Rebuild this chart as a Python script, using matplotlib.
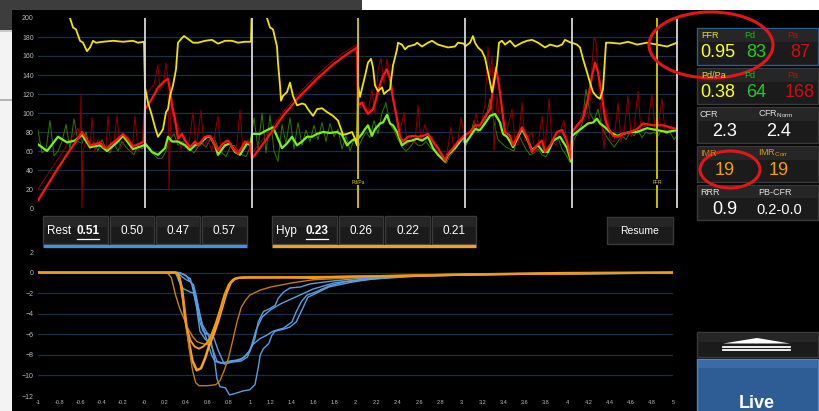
import numpy as np
import matplotlib
matplotlib.use('Agg')
import matplotlib.pyplot as plt
from matplotlib.patches import Rectangle, Ellipse, Polygon

plt.rcParams['font.family'] = ['Liberation Sans', 'DejaVu Sans']
plt.rcParams['mathtext.fontset'] = 'custom'
plt.rcParams['mathtext.rm'] = 'Liberation Sans'

W, H = 820, 411

# ---------------- top panel: pressure traces (time index, mmHg) ----------------
ratio_t = [29, 32, 35, 38, 42, 45, 49, 52, 55, 58, 65, 75, 85, 95, 100, 106,
           107, 110, 114, 117, 120, 122, 125, 128, 130, 132, 135, 138, 140, 144, 146, 150, 155, 160,
           167, 174, 180, 187, 194, 200, 207, 213,
           214, 229, 232, 235, 239, 240, 242, 243, 245, 249, 252, 255, 259, 264, 267, 270, 275, 279,
           284, 289, 295, 300, 305, 309, 314, 317, 319,
           320, 322, 327, 330, 333, 335, 337, 340, 344, 346, 349, 352, 355, 359, 360, 364, 367, 370,
           377, 379, 384, 390, 394, 400, 410, 417, 420, 426,
           427, 432, 435, 437, 440, 444, 447, 450, 454, 455, 457, 459, 461, 464, 467, 472, 477, 484,
           489, 494, 500, 507, 512, 519, 524, 527, 533,
           534, 539, 542, 545, 549, 552, 555, 559, 562, 565, 568, 572, 582, 590, 599, 609, 619, 629, 639]
ratio_v = [215, 200, 190, 188, 176, 174, 165, 169, 176, 174, 175, 176, 175, 176, 174, 175,
           127, 111, 97, 85, 75, 78, 83, 101, 104, 118, 129, 146, 174, 179, 181, 178, 174, 174,
           176, 177, 173, 176, 176, 174, 175, 175,
           220, 200, 190, 188, 170, 153, 129, 113, 118, 122, 132, 118, 108, 110, 109, 104, 97, 104,
           105, 101, 97, 92, 77, 78, 80, 73, 66,
           129, 117, 139, 153, 157, 148, 129, 123, 127, 120, 123, 125, 150, 167, 174, 172, 167, 170,
           172, 174, 170, 174, 176, 172, 169, 170, 174, 173,
           170, 174, 181, 174, 169, 165, 158, 143, 122, 127, 139, 151, 174, 176, 172, 176, 170, 174,
           176, 177, 174, 169, 172, 170, 172, 177, 174,
           174, 172, 169, 157, 143, 132, 122, 117, 115, 125, 174, 174, 173, 175, 172, 174, 172, 170, 174]

pa_t = [0, 10, 20, 30, 38, 44, 48, 52, 57, 62, 66, 69, 74, 79, 85, 90, 95, 100, 106,
        107, 114, 120, 127, 130, 132, 134, 137, 140, 144, 147, 152, 157, 160, 167, 172, 175, 180,
        185, 190, 195, 200, 207, 212,
        214, 229, 245, 262, 279, 295, 305, 319,
        320, 324, 327, 330, 335, 339, 342, 345, 349, 352, 355, 359, 362, 365, 370, 375, 380, 385,
        390, 395, 400, 407, 410, 415, 420, 426,
        432, 437, 442, 447, 452, 455, 458, 461, 464, 467, 472, 475, 484, 489, 494, 499, 504, 507,
        512, 519, 524, 529, 533,
        534, 539, 545, 550, 554, 557, 560, 564, 567, 570, 575, 580, 585, 592, 599, 605, 615, 625,
        632, 639]
pa_v = [8, 25, 42, 58, 70, 80, 74, 66, 67, 69, 64, 63, 68, 72, 78, 72, 65, 67, 70,
        104, 115, 127, 134, 136, 125, 108, 94, 73, 78, 71, 64, 70, 66, 75, 76, 70, 61,
        68, 71, 63, 57, 70, 68,
        52, 73, 97, 118, 136, 151, 159, 169,
        108, 111, 104, 99, 104, 118, 130, 139, 146, 136, 115, 94, 75, 70, 75, 76, 75, 76,
        78, 70, 63, 50, 57, 63, 70, 76,
        80, 87, 87, 96, 104, 125, 148, 129, 104, 80, 76, 66, 85, 75, 59, 66, 71, 59,
        66, 80, 82, 70, 52,
        80, 87, 94, 115, 139, 153, 143, 118, 94, 85, 76, 75, 78, 80, 83, 89, 87, 87,
        85, 83]

pa_raw_t = [0, 40, 42, 43, 44, 45, 48, 52, 54, 57, 60, 64, 68, 70, 73, 76, 79, 82, 86, 90, 94, 97,
            100, 104,
            107, 112, 116, 120, 122, 126, 128, 130, 131, 133, 136, 140, 143, 147, 150, 155, 158, 163,
            166, 170, 174, 180, 183, 188, 192, 198, 202, 205, 210, 213,
            214, 229, 245, 262, 279, 295, 305, 319,
            320, 322, 326, 330, 334, 337, 340, 343, 346, 349, 352, 355, 358, 362, 366, 369, 373, 377,
            380, 383, 387, 391, 394, 398, 402, 406, 409, 413, 416, 420, 423, 427,
            431, 434, 438, 441, 444, 447, 450, 452, 454, 456, 459, 462, 466, 469, 474, 477, 480, 484,
            487, 490, 494, 497, 500, 504, 507, 511, 514, 518, 522, 526, 530, 533,
            536, 540, 544, 548, 551, 554, 556, 558, 560, 563, 566, 569, 572, 576, 580, 583, 586, 590,
            593, 596, 600, 603, 606, 610, 614, 617, 620, 624, 627, 632, 636, 639]
pa_raw_v = [20, 84, 72, 120, 0, 60, 70, 62, 95, 60, 72, 68, 62, 97, 60, 70, 97, 62, 70, 75, 58, 97,
            60, 66,
            118, 125, 130, 151, 125, 135, 153, 135, 19, 110, 90, 87, 62, 75, 60, 101, 62, 103,
            65, 72, 60, 97, 58, 72, 66, 58, 103, 60, 72, 68,
            58, 78, 101, 122, 140, 155, 163, 172,
            140, 105, 112, 100, 125, 99, 145, 158, 130, 157, 140, 120, 100, 80, 101, 66, 75, 68,
            108, 70, 88, 72, 75, 62, 55, 48, 58, 85, 60, 72, 95, 72,
            80, 78, 100, 84, 92, 110, 170, 140, 160, 59, 120, 85, 75, 82, 104, 70, 66, 111,
            70, 75, 80, 58, 66, 97, 62, 115, 70, 66, 80, 92, 60, 52,
            78, 85, 100, 110, 92, 150, 179, 175, 140, 100, 62, 104, 72, 70, 111, 70, 80, 118,
            75, 84, 123, 80, 85, 90, 120, 82, 86, 115, 80, 84, 80, 82]

pd_t = [0, 9, 20, 29, 37, 44, 52, 62, 69, 79, 85, 95, 106,
        107, 114, 120, 127, 130, 134, 140, 147, 152, 157, 162, 169, 172, 177, 180, 187, 192, 197,
        202, 209, 213,
        214, 222, 229, 235, 240, 244, 249, 254, 259, 264, 269, 274, 279, 285, 292, 299, 304, 309,
        314, 317, 319,
        320, 324, 327, 330, 334, 337, 342, 345, 349, 352, 355, 359, 364, 369, 374, 379, 384, 390,
        395, 400, 407, 410, 417, 422, 426,
        427, 432, 437, 442, 447, 452, 457, 462, 465, 469, 472, 475, 484, 489, 494, 500, 505, 510,
        515, 522, 529, 533,
        534, 539, 545, 550, 555, 559, 562, 567, 572, 579, 585, 592, 599, 609, 619, 629, 639]
pd_v = [67, 60, 75, 69, 71, 77, 64, 66, 60, 69, 76, 62, 66,
        68, 59, 56, 63, 75, 70, 70, 66, 61, 66, 68, 75, 75, 66, 56, 66, 68, 59,
        56, 68, 66,
        78, 78, 82, 85, 73, 63, 68, 75, 66, 70, 75, 75, 78, 80, 79, 80, 77, 66,
        71, 73, 68,
        73, 78, 83, 87, 76, 83, 89, 90, 98, 89, 87, 80, 66, 70, 71, 73, 71, 75,
        63, 56, 49, 56, 63, 70, 76,
        68, 75, 83, 82, 89, 97, 99, 90, 78, 75, 70, 64, 83, 73, 61, 66, 59, 59,
        71, 75, 63, 49,
        76, 80, 85, 89, 90, 94, 89, 85, 80, 76, 78, 80, 80, 84, 82, 80, 82]

# raw distal pressure, one sample every 4 time units
pd_raw_v = [82, 58, 62, 92, 55, 60, 70, 88, 62, 94, 70, 68, 80, 62, 70, 60, 72, 62, 58, 68,
            60, 70, 64, 60, 56, 66, 62,
            66, 60, 56, 52, 52, 60, 72, 78, 66, 70, 66, 62, 58, 64, 68, 64, 72, 74, 64, 58,
            54, 64, 66, 60, 56, 54, 64,
            95, 62, 100, 58, 98, 60, 49, 88, 68, 95, 62, 90, 66, 82, 70, 87, 72, 90, 70, 89,
            75, 83, 62, 76, 60, 72,
            64, 72, 80, 74, 92, 78, 100, 111, 88, 82, 72, 64, 60, 64, 70, 66, 66, 70, 64, 60,
            56, 52, 47, 55, 60, 66, 72,
            66, 75, 92, 80, 85, 95, 115, 90, 72, 68, 64, 62, 60, 78, 70, 62, 56, 58, 62, 56,
            54, 62, 70, 74, 62, 56, 48,
            72, 80, 88, 125, 100, 92, 104, 85, 76, 70, 64, 70, 76, 72, 80, 76, 82, 74, 80, 78,
            80, 76, 82, 78, 80, 72, 78]

event_white_t = [107, 214, 427, 534, 639]
event_yellow_t = [320, 619]
event_labels = ['Pd/Pa', 'FFR']
pressure_ticks = list(range(0, 201, 20))

# ---------------- bottom panel: thermodilution curves ----------------
rest_x = [
    [-1, 0.30, 0.33, 0.36, 0.40, 0.44, 0.47, 0.50, 0.53, 0.56, 0.61, 0.64, 0.67, 0.69, 0.72,
     0.77, 0.81, 0.88, 0.94, 1.00, 1.05, 1.08, 1.10, 1.13, 1.18, 1.21, 1.24, 1.32, 1.38, 1.44,
     1.50, 1.55, 1.63, 1.75, 1.93, 2.1, 2.4, 2.8, 3.5, 4.2, 5.0],
    [-1, 0.32, 0.36, 0.40, 0.44, 0.47, 0.50, 0.53, 0.56, 0.60, 0.64, 0.67, 0.72, 0.78, 0.85,
     0.91, 0.97, 1.00, 1.05, 1.08, 1.13, 1.19, 1.24, 1.27, 1.32, 1.38, 1.48, 1.57, 1.8, 2.0,
     2.4, 2.8, 3.5, 5.0],
    [-1, 0.33, 0.38, 0.44, 0.47, 0.50, 0.53, 0.58, 0.62, 0.66, 0.69, 0.74, 0.81, 0.88, 0.94,
     0.99, 1.03, 1.10, 1.16, 1.22, 1.32, 1.40, 1.44, 1.49, 1.54, 1.62, 1.75, 1.9, 2.2, 2.6,
     3.2, 5.0],
    [-1, 0.34, 0.40, 0.46, 0.50, 0.55, 0.60, 0.66, 0.70, 0.76, 0.84, 0.92, 0.98, 1.02, 1.06,
     1.12, 1.2, 1.3, 1.45, 1.6, 1.8, 2.1, 2.6, 3.2, 5.0],
]
rest_y = [
    [0, 0, -0.8, -1.5, -1.7, -1.9, -2.0, -3.2, -4.8, -5.7, -6.1, -6.9, -8.6, -10.3, -11.1,
     -11.2, -11.9, -11.7, -11.5, -11.4, -10.9, -9.3, -8.0, -7.4, -6.9, -6.1, -5.7, -5.5, -5.3, -4.8,
     -3.5, -2.4, -2.0, -1.4, -1.0, -0.7, -0.4, -0.2, -0.15, -0.1, -0.05],
    [0, 0, -0.4, -0.7, -0.9, -1.2, -2.5, -4.1, -5.4, -6.7, -8.0, -8.6, -8.8, -8.8, -8.6,
     -8.5, -8.0, -7.7, -6.4, -4.8, -3.8, -3.5, -3.2, -2.5, -1.9, -1.5, -1.4, -1.1, -0.8, -0.6,
     -0.35, -0.2, -0.1, 0],
    [0, 0, -0.2, -0.6, -1.9, -3.5, -5.7, -6.5, -6.7, -7.7, -8.6, -8.8, -8.6, -8.5, -8.3,
     -7.7, -7.0, -6.4, -6.1, -5.7, -5.4, -4.8, -3.8, -2.8, -2.2, -1.9, -1.3, -0.9, -0.6, -0.35,
     -0.2, -0.05],
    [0, 0, -0.3, -1.2, -2.8, -5.0, -5.9, -6.3, -7.5, -8.9, -8.7, -8.6, -8.2, -7.0, -5.6,
     -4.3, -3.6, -3.0, -2.3, -1.6, -1.0, -0.6, -0.3, -0.15, 0],
]
hyp_x = [
    [-1, 0.30, 0.33, 0.36, 0.38, 0.40, 0.43, 0.46, 0.50, 0.54, 0.58, 0.62, 0.66, 0.70, 0.74,
     0.78, 0.82, 0.86, 0.90, 1.0, 1.3, 1.6, 2.0, 2.5, 3.0, 4.0, 5.0],
    [-1, 0.30, 0.34, 0.37, 0.40, 0.43, 0.46, 0.49, 0.52, 0.60, 0.68, 0.72, 0.76, 0.80, 0.84,
     0.88, 0.92, 0.96, 1.0, 1.1, 1.2, 1.4, 1.6, 2.0, 2.5, 3.0, 4.0, 5.0],
    [-1, 0.22, 0.26, 0.30, 0.34, 0.38, 0.42, 0.46, 0.50, 0.55, 0.60, 0.63, 0.66, 0.70, 0.74,
     0.78, 0.82, 0.86, 0.9, 1.0, 1.5, 2.0, 3.0, 5.0],
    [-1, 0.31, 0.34, 0.37, 0.40, 0.44, 0.48, 0.52, 0.56, 0.60, 0.64, 0.68, 0.72, 0.76, 0.80,
     0.84, 0.88, 0.95, 1.2, 1.6, 2.0, 2.6, 3.4, 5.0],
]
hyp_y = [
    [0, 0, -0.3, -1.5, -3.2, -5.0, -7.0, -8.6, -9.5, -9.3, -8.3, -7.0, -6.0, -4.8, -3.4,
     -2.0, -1.0, -0.6, -0.5, -0.45, -0.45, -0.5, -0.4, -0.3, -0.2, -0.05, 0],
    [0, 0, -0.5, -2.5, -5.0, -7.5, -9.5, -10.7, -11.0, -11.0, -10.9, -10.5, -9.5, -8.3, -6.6,
     -4.8, -3.4, -2.7, -2.2, -1.7, -1.4, -1.0, -0.7, -0.5, -0.3, -0.2, -0.1, 0],
    [0, 0, -0.5, -2.2, -3.5, -4.5, -5.5, -6.2, -6.7, -6.9, -7.0, -6.5, -5.5, -4.5, -3.2,
     -1.8, -0.9, -0.6, -0.5, -0.4, -0.4, -0.35, -0.2, 0],
    [0, 0, -0.6, -2.8, -5.2, -6.6, -7.2, -7.4, -7.2, -6.8, -6.0, -4.9, -3.6, -2.2, -1.2,
     -0.7, -0.55, -0.5, -0.5, -0.45, -0.4, -0.3, -0.15, 0],
]
hyp_colors = ['#ffa41c', '#c47a0c', '#c98510', '#f59a12']
hyp_widths = [1.8, 1.0, 1.0, 1.4]
curve_ticks_y = list(range(2, -13, -2))
curve_grid_y = [0, -2, -4, -6, -8, -10]

# ---------------- buttons and read-out panel ----------------
rest_values = ['0.51', '0.50', '0.47', '0.57']
hyp_values = ['0.23', '0.26', '0.22', '0.21']

panel_labels = [
    [('FFR', '#e6e21a'), ('Pd', '#1fb81f'), ('Pa', '#b81010')],
    [('Pd/Pa', '#e6e21a'), ('Pd', '#1fb81f'), ('Pa', '#b81010')],
    [('CFR', '#e0e0e0'), (r'CFR$_{\mathregular{Norm}}$', '#e0e0e0')],
    [('IMR', '#c98a1a'), (r'IMR$_{\mathregular{Corr}}$', '#d99a20')],
    [('RRR', '#e0e0e0'), ('PB-CFR', '#e0e0e0')],
]
panel_values = [
    [('0.95', '#ffff26'), ('83', '#20cc20'), ('87', '#cc1010')],
    [('0.38', '#ffff26'), ('64', '#20cc20'), ('168', '#cc1010')],
    [('2.3', 'white'), ('2.4', 'white')],
    [('19', '#f5a000'), ('19', '#f5a000')],
    [('0.9', 'white'), ('0.2-0.0', 'white')],
]

GRID = '#16304a'
TICK = '#b8b8b8'

fig = plt.figure(figsize=(W / 100, H / 100), dpi=100, facecolor='black')


def px_axes(x0, y0, x1, y1):
    return fig.add_axes([x0 / W, 1 - y1 / H, (x1 - x0) / W, (y1 - y0) / H])


def style_axes(ax):
    ax.set_facecolor('black')
    for s in ax.spines.values():
        s.set_visible(False)
    ax.tick_params(length=0, colors=TICK, labelsize=5, pad=3)


# top chart
ax = px_axes(38, 18, 678, 208)
ax.set_xlim(0, 640)
ax.set_ylim(0, 200)
for v in pressure_ticks[1:-1]:
    ax.axhline(v, color=GRID, lw=0.9, zorder=0)
ax.set_yticks(pressure_ticks)
ax.set_xticks([])
style_axes(ax)
raw_t = np.arange(len(pd_raw_v)) * 4
ax.plot(raw_t, pd_raw_v, color='#2f7a00', lw=0.7, zorder=2)
ax.plot(pa_raw_t, pa_raw_v, color='#8e0000', lw=0.7, zorder=3)
ax.plot(pd_t, pd_v, color='#7cf01a', lw=1.6, zorder=4)
ax.plot(pa_t, pa_v, color='#ff1414', lw=1.6, zorder=5)
ax.plot(ratio_t, ratio_v, color='#f2e400', lw=1.3, zorder=6)
for t in event_white_t:
    ax.axvline(t, color='#d8d8d8', lw=1.3, zorder=7)
for t, lab in zip(event_yellow_t, event_labels):
    ax.axvline(t, color='#c9c000', lw=1.4, zorder=7)
    ax.text(t, 27, lab, color='#d8d000', fontsize=3.5, ha='center', va='center', zorder=8,
            bbox=dict(fc='black', ec='none', pad=0.3))

# bottom chart
bx = px_axes(38, 252, 673, 396)
bx.set_xlim(-1, 5)
bx.set_ylim(-12, 2)
for v in curve_grid_y:
    bx.axhline(v, color=GRID, lw=0.9, zorder=0)
for xs, ys in zip(rest_x, rest_y):
    bx.plot(xs, ys, color='#5a9fe2', lw=1.0, zorder=3)
for xs, ys, c, lw in zip(hyp_x, hyp_y, hyp_colors, hyp_widths):
    bx.plot(xs, ys, color=c, lw=lw, zorder=4)
bx.set_yticks(curve_ticks_y)
xt = np.round(np.arange(-1, 5.001, 0.2), 1)
bx.set_xticks(xt)
bx.set_xticklabels([f'{v:g}' for v in xt])
style_axes(bx)
bx.tick_params(axis='x', labelsize=4, pad=3)

# overlay in pixel coordinates
ov = fig.add_axes([0, 0, 1, 1])
ov.set_xlim(0, W)
ov.set_ylim(H, 0)
ov.axis('off')
ov.patch.set_alpha(0)

ov.add_patch(Rectangle((0, 0), 362, 10, fc='#3d3d3d', ec='none'))
ov.add_patch(Rectangle((0, 10), 12, 20, fc='#3d3d3d', ec='none'))
ov.add_patch(Rectangle((362, 0), W - 362, 10, fc='white', ec='none'))
ov.add_patch(Rectangle((0, 30), 12, H - 30, fc='#f3f3f3', ec='none'))
ov.add_patch(Rectangle((0, 30.5), 12, 2, fc='#c9c9c9', ec='none'))
ov.add_patch(Rectangle((0, 99), 12, 2, fc='#b4b4b4', ec='none'))


def button(x0, x1, y0, y1, fc='#1b1b1b', ec='#3a3a3a'):
    ov.add_patch(Rectangle((x0, y0), x1 - x0, y1 - y0, fc=fc, ec=ec, lw=1))
    ov.add_patch(Rectangle((x0 + 1, y0 + 1), x1 - x0 - 2, (y1 - y0) * 0.35, fc='#262626', ec='none'))


rest_btn = [(43, 108), (110, 154), (156, 200), (202, 247)]
hyp_btn = [(272, 337), (339, 383), (385, 430), (432, 476)]
for group, vals, name, line_c, lx in [(rest_btn, rest_values, 'Rest', '#4a8ee0', 47),
                                      (hyp_btn, hyp_values, 'Hyp', '#f2a024', 276)]:
    for i, ((x0, x1), v) in enumerate(zip(group, vals)):
        button(x0, x1, 216, 244)
        if i == 0:
            ov.text(lx, 230.5, name, color='white', fontsize=8.5, ha='left', va='center')
            ov.text(lx + 30, 230.5, v, color='white', fontsize=8.5, fontweight='bold',
                    ha='left', va='center')
            ov.plot([lx + 30, lx + 52], [238.5, 238.5], color='white', lw=0.9)
        else:
            ov.text((x0 + x1) / 2, 230.5, v, color='white', fontsize=8.5, ha='center', va='center')
    ov.plot([group[0][0], group[-1][1]], [246, 246], color=line_c, lw=2.4, solid_capstyle='butt')

button(607, 673, 217, 244)
ov.text(640, 231, 'Resume', color='white', fontsize=7.5, ha='center', va='center')

# read-out boxes
box_rows = [(28, 65), (68, 104), (107, 143), (146, 182), (185, 220)]
for i, ((y0, y1), labs, vals) in enumerate(zip(box_rows, panel_labels, panel_values)):
    ec = '#2c5d90' if i == 0 else '#3a3a3a'
    button(697, 818, y0, y1, ec=ec)
    if len(labs) == 3:
        lxs, vxs = [701, 744, 787], [718, 756, 800]
    else:
        lxs, vxs = [700, 758], [725, 779]
    for (t, c), x in zip(labs, lxs):
        ov.text(x, y0 + 7, t, color=c, fontsize=6.5, ha='left', va='center')
    for (t, c), x in zip(vals, vxs):
        size = 10.5 if len(t) > 4 else 13
        ov.text(x, y0 + 24.5, t, color=c, fontsize=size, ha='center', va='center')

# scroll and live buttons
button(697, 818, 332, 357)
ov.add_patch(Polygon([(723, 343.5), (757, 338), (790, 343.5)], closed=True, fc='white', ec='none'))
ov.plot([723, 790], [346.5, 346.5], color='white', lw=1.3)
ov.plot([723, 790], [349.5, 349.5], color='white', lw=1.3)
ov.add_patch(Rectangle((697, 359), 121, 60, fc='#2e5c95', ec='#5a86c0', lw=1))
ov.add_patch(Rectangle((698, 360), 119, 8, fc='#3b6aa5', ec='none'))
ov.text(757, 403, 'Live', color='white', fontsize=13, fontweight='bold', ha='center', va='center')

# red annotation ellipses
ov.add_patch(Ellipse((711, 45), 124, 66, fill=False, ec='#e21616', lw=2.2))
ov.add_patch(Ellipse((730, 169.5), 60, 37, fill=False, ec='#e21616', lw=2.2))

fig.savefig('out.png', dpi=100, facecolor='black')
